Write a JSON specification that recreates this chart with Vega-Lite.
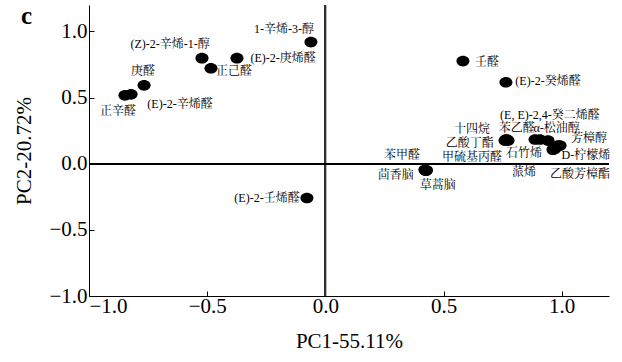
{
  "$schema": "https://vega.github.io/schema/vega-lite/v6.json",
  "autosize": "none",
  "width": 520,
  "height": 291,
  "padding": {"left": 89, "top": 5, "right": 13, "bottom": 66},
  "background": "white",
  "title": {"text": "c", "anchor": "start", "frame": "group", "orient": "top", "baseline": "top", "offset": 0, "dx": -68, "dy": 25, "font": "Liberation Serif", "fontSize": 25, "fontWeight": "bold", "color": "black"},
  "config": {
    "view": {"stroke": null},
    "axis": {"grid": false, "domainColor": "black", "tickColor": "black", "labelColor": "black", "titleColor": "black", "labelFont": "Liberation Serif", "titleFont": "Liberation Serif", "labelFontSize": 21, "titleFontSize": 21, "titleFontWeight": "normal", "tickSize": -5, "domainWidth": 1, "tickWidth": 1}
  },
  "data": {"values": [
    {"name": "1-辛烯-3-醇", "pc1": -0.061, "pc2": 0.92, "lx": -0.175, "ly": 1.019},
    {"name": "(Z)-2-辛烯-1-醇", "pc1": -0.522, "pc2": 0.798, "lx": -0.657, "ly": 0.905},
    {"name": "(E)-2-庚烯醛", "pc1": -0.374, "pc2": 0.798, "lx": -0.179, "ly": 0.798},
    {"name": "正己醛", "pc1": -0.484, "pc2": 0.722, "lx": -0.387, "ly": 0.7},
    {"name": "庚醛", "pc1": -0.767, "pc2": 0.593, "lx": -0.772, "ly": 0.7},
    {"name": "正辛醛", "pc1": -0.848, "pc2": 0.517, "lx": -0.877, "ly": 0.395},
    {"name": "(E)-2-辛烯醛", "pc1": -0.822, "pc2": 0.525, "lx": -0.615, "ly": 0.449},
    {"name": "壬醛", "pc1": 0.582, "pc2": 0.776, "lx": 0.684, "ly": 0.768},
    {"name": "(E)-2-癸烯醛", "pc1": 0.764, "pc2": 0.616, "lx": 0.942, "ly": 0.624},
    {"name": "(E, E)-2,4-癸二烯醛", "pc1": 0.908, "pc2": 0.183, "lx": 0.95, "ly": 0.365},
    {"name": "苯乙醛", "pc1": 0.768, "pc2": 0.183, "lx": 0.81, "ly": 0.27},
    {"name": "α-松油醇", "pc1": 0.887, "pc2": 0.183, "lx": 0.978, "ly": 0.27},
    {"name": "芳樟醇", "pc1": 0.984, "pc2": 0.137, "lx": 1.115, "ly": 0.198},
    {"name": "十四烷", "pc1": 0.764, "pc2": 0.183, "lx": 0.62, "ly": 0.262},
    {"name": "乙酸丁酯", "pc1": 0.76, "pc2": 0.175, "lx": 0.611, "ly": 0.16},
    {"name": "甲硫基丙醛", "pc1": 0.773, "pc2": 0.175, "lx": 0.62, "ly": 0.05},
    {"name": "石竹烯", "pc1": 0.942, "pc2": 0.175, "lx": 0.84, "ly": 0.084},
    {"name": "D-柠檬烯", "pc1": 0.993, "pc2": 0.137, "lx": 1.102, "ly": 0.068},
    {"name": "蒎烯", "pc1": 0.963, "pc2": 0.106, "lx": 0.84, "ly": -0.061},
    {"name": "乙酸芳樟酯", "pc1": 0.971, "pc2": 0.114, "lx": 1.077, "ly": -0.076},
    {"name": "苯甲醛", "pc1": 0.425, "pc2": -0.053, "lx": 0.324, "ly": 0.068},
    {"name": "茴香脑", "pc1": 0.421, "pc2": -0.046, "lx": 0.298, "ly": -0.084},
    {"name": "草蒿脑", "pc1": 0.428, "pc2": -0.05, "lx": 0.476, "ly": -0.16},
    {"name": "(E)-2-壬烯醛", "pc1": -0.078, "pc2": -0.259, "lx": -0.247, "ly": -0.259}
  ]},
  "layer": [
    {"mark": {"type": "rule", "color": "#333", "strokeWidth": 1.3}, "encoding": {"x": {"datum": 0, "type": "quantitative"}}},
    {"mark": {"type": "rule", "color": "black", "strokeWidth": 1.2}, "encoding": {"y": {"datum": 0, "type": "quantitative"}}},
    {
      "mark": {"type": "point", "filled": true, "color": "black", "opacity": 1, "shape": "M-1,0A1,0.82,0,1,0,1,0A1,0.82,0,1,0,-1,0Z", "size": 170},
      "encoding": {
        "x": {"field": "pc1", "type": "quantitative", "scale": {"domain": [-1, 1.2], "nice": false, "zero": false}, "axis": {"values": [-1, -0.5, 0, 0.5, 1], "format": ".1f", "title": "PC1-55.11%", "labelPadding": 4, "titlePadding": 14}},
        "y": {"field": "pc2", "type": "quantitative", "scale": {"domain": [-1, 1.2], "nice": false, "zero": false}, "axis": {"values": [-1, -0.5, 0, 0.5, 1], "format": ".1f", "title": "PC2-20.72%", "labelPadding": 7, "titlePadding": 14}}
      }
    },
    {
      "mark": {"type": "text", "font": "Liberation Serif, Noto Serif CJK SC, Noto Sans CJK SC", "fontSize": 12, "color": "black", "align": "center", "baseline": "middle"},
      "encoding": {
        "x": {"field": "lx", "type": "quantitative", "title": "PC1-55.11%"},
        "y": {"field": "ly", "type": "quantitative", "title": "PC2-20.72%"},
        "text": {"field": "name"}
      }
    }
  ]
}
